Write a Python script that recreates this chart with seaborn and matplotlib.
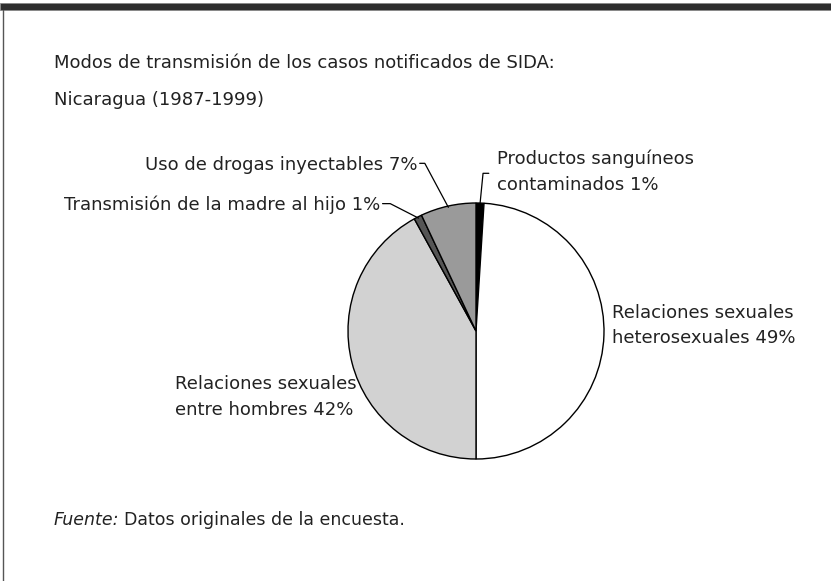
import numpy as np
import matplotlib
matplotlib.use("Agg")
import matplotlib.pyplot as plt
import seaborn as sns
from matplotlib.patches import Rectangle
from matplotlib.lines import Line2D

# data
modos = [
    "Productos sanguíneos\ncontaminados",
    "Relaciones sexuales\nheterosexuales",
    "Relaciones sexuales\nentre hombres",
    "Transmisión de la madre al hijo",
    "Uso de drogas inyectables",
]
porcentajes = [1, 49, 42, 1, 7]
colores = ["#000000", "#ffffff", "#d2d2d2", "#555555", "#9a9a9a"]

titulo = ["Modos de transmisión de los casos notificados de SIDA:", "Nicaragua (1987-1999)"]

sns.set_style("white")
plt.rcParams["font.family"] = ["DejaVu Sans"]
TXT = "#222222"
FS = 13

W, H = 831, 581
fig = plt.figure(figsize=(W / 100, H / 100), dpi=100)

# marco de la figura
fig.add_artist(Rectangle((0, 1 - 10 / H), 1, 7 / H, transform=fig.transFigure,
                         facecolor="#2e2e2e", edgecolor="#888888", lw=0.6))
fig.add_artist(Line2D([2.5 / W, 2.5 / W], [0, 1 - 10 / H], transform=fig.transFigure,
                      color="#555555", lw=1.0))

# eje del pastel: centro (476, 331) px, radio 128 px
cx, cy, r = 476, 331, 128
ax = fig.add_axes([(cx - r) / W, (H - cy - r) / H, 2 * r / W, 2 * r / H])
wedges, _ = ax.pie(porcentajes, colors=colores, startangle=90, counterclock=False,
                   wedgeprops=dict(edgecolor="black", linewidth=1.0))
ax.set_xlim(-1, 1)
ax.set_ylim(-1, 1)
ax.set_aspect("equal")
ax.axis("off")


def punto_medio(w, rad=0.99):
    ang = np.deg2rad((w.theta1 + w.theta2) / 2)
    return rad * np.cos(ang), rad * np.sin(ang)


LS = 1.55

# Productos sanguíneos
x0, y0 = punto_medio(wedges[0])
ax.add_line(Line2D([x0, 0.055, 0.10], [y0, 1.232, 1.232], color="black", lw=0.9, clip_on=False))
ax.text(0.164, 1.245, f"{modos[0]} {porcentajes[0]}%", ha="left", va="center",
        fontsize=FS, color=TXT, linespacing=LS)

# Uso de drogas inyectables
x0, y0 = punto_medio(wedges[4])
ax.add_line(Line2D([x0, -0.40, -0.44], [y0, 1.31, 1.31], color="black", lw=0.9, clip_on=False))
ax.text(-0.46, 1.30, f"{modos[4]} {porcentajes[4]}%", ha="right", va="center",
        fontsize=FS, color=TXT)

# Transmisión de la madre al hijo
x0, y0 = punto_medio(wedges[3])
ax.add_line(Line2D([x0, -0.67, -0.73], [y0, 0.995, 0.995], color="black", lw=0.9, clip_on=False))
ax.text(-0.75, 0.985, f"{modos[3]} {porcentajes[3]}%", ha="right", va="center",
        fontsize=FS, color=TXT)

# Heterosexuales
ax.text(1.0625, 0.043, f"{modos[1]} {porcentajes[1]}%", ha="left", va="center",
        fontsize=FS, color=TXT, linespacing=LS)

# Entre hombres
ax.text(-2.35, -0.516, f"{modos[2]} {porcentajes[2]}%", ha="left", va="center",
        fontsize=FS, color=TXT, linespacing=LS)

# titulo y fuente
for linea, ypx in zip(titulo, [63, 100]):
    fig.text(54 / W, 1 - ypx / H, linea, ha="left", va="center", fontsize=FS, color=TXT)
t = fig.text(54 / W, 1 - 520 / H, "Fuente:", ha="left", va="center", fontsize=12.5,
             color=TXT, style="italic")
fig.canvas.draw()
bb = t.get_window_extent()
fig.text((bb.x1 + 4) / W, 1 - 520 / H, "Datos originales de la encuesta.", ha="left",
         va="center", fontsize=12.5, color=TXT)

fig.savefig("out.png", dpi=100, facecolor="white")
